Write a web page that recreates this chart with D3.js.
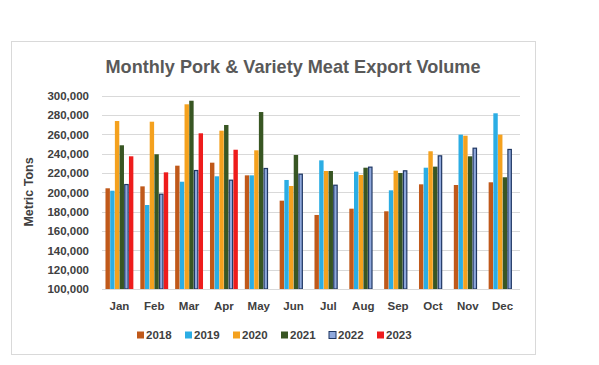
<!DOCTYPE html>
<html>
<head>
<meta charset="utf-8">
<script src="https://cdn.jsdelivr.net/npm/d3@7"></script>
<style>
  html, body { margin: 0; padding: 0; background: #ffffff; }
  svg { display: block; }
  text { font-family: "Liberation Sans", Arial, sans-serif; }
</style>
</head>
<body>
<div id="chart"></div>
<script>
const months = ["Jan","Feb","Mar","Apr","May","Jun","Jul","Aug","Sep","Oct","Nov","Dec"];
const seriesNames = ["2018","2019","2020","2021","2022","2023"];
const v2018 = [204200, 206200, 227600, 230700, 217600, 191400, 176600, 183100, 180400, 208300, 207600, 210400];
const v2019 = [201700, 186900, 211000, 216600, 217600, 212800, 233100, 221400, 202100, 225500, 259700, 281800];
const v2020 = [273800, 273100, 291100, 263800, 243500, 206600, 222100, 218000, 222400, 242500, 258600, 259700];
const v2021 = [248700, 239400, 294800, 269700, 283100, 238700, 222100, 225500, 220000, 226600, 237300, 215600];
const v2022 = [208600, 198600, 223100, 213100, 225200, 219300, 207900, 226600, 222800, 238300, 246200, 244900];
const v2023 = [237300, 220700, 261100, 244100, null, null, null, null, null, null, null, null];
const yTicks = [100000,120000,140000,160000,180000,200000,220000,240000,260000,280000,300000];
const colors = ["#C0591A", "#2BADE4", "#F4A11E", "#385623", "#8FA8DC", "#EE1C1C"];
const strokes = [null, null, null, null, "#1F3763", null];

const allSeries = [v2018, v2019, v2020, v2021, v2022, v2023];

const W = 599, H = 365;
const svg = d3.select("#chart").append("svg").attr("width", W).attr("height", H);

// chart frame
svg.append("rect").attr("x", 11.5).attr("y", 41.5).attr("width", 524).attr("height", 313)
  .attr("fill", "#ffffff").attr("stroke", "#d9d9d9").attr("stroke-width", 1);

const plot = { left: 102, right: 520, top: 95.7, bottom: 289 };

const y = d3.scaleLinear().domain([100000, 300000]).range([plot.bottom, plot.top]);
const x0 = d3.scaleBand().domain(months).range([plot.left, plot.right]).paddingInner(0.2).paddingOuter(0.1);
const x1 = d3.scaleBand().domain(seriesNames).range([0, x0.bandwidth()]).paddingInner(0.06);

// gridlines
svg.append("g").selectAll("line").data(yTicks).join("line")
  .attr("x1", plot.left).attr("x2", plot.right)
  .attr("y1", d => Math.round(y(d)) + 0.5).attr("y2", d => Math.round(y(d)) + 0.5)
  .attr("stroke", "#d9d9d9").attr("stroke-width", 1);

// y axis labels
const yAxis = d3.axisLeft(y).tickValues(yTicks).tickFormat(d3.format(",")).tickSize(0).tickPadding(0);
const yg = svg.append("g").attr("transform", `translate(${plot.left - 13},0)`).call(yAxis);
yg.select(".domain").remove();
yg.selectAll("text").attr("font-size", 11.5).attr("font-weight", "bold").attr("fill", "#404040")
  .attr("font-family", "Liberation Sans, Arial, sans-serif");

// bars
const groups = svg.append("g").selectAll("g").data(months).join("g")
  .attr("transform", d => `translate(${x0(d)},0)`);

groups.selectAll("rect")
  .data((m, i) => seriesNames.map((s, j) => ({ s, j, v: allSeries[j][i] })).filter(d => d.v != null))
  .join("rect")
  .attr("x", d => x1(d.s) + (strokes[d.j] ? 0.5 : 0))
  .attr("y", d => y(d.v) + (strokes[d.j] ? 0.5 : 0))
  .attr("width", d => x1.bandwidth() - (strokes[d.j] ? 1 : 0))
  .attr("height", d => y(100000) - y(d.v) - (strokes[d.j] ? 0.5 : 0))
  .attr("fill", d => colors[d.j])
  .attr("stroke", d => strokes[d.j] || "none")
  .attr("stroke-width", d => strokes[d.j] ? 1.2 : 0);

// baseline
svg.append("line").attr("x1", plot.left).attr("x2", plot.right)
  .attr("y1", Math.round(y(100000)) + 0.5).attr("y2", Math.round(y(100000)) + 0.5)
  .attr("stroke", "#d9d9d9");

// x axis labels
const xAxis = d3.axisBottom(x0).tickSize(0).tickPadding(0);
const xg = svg.append("g").attr("transform", `translate(0,${plot.bottom + 13})`).call(xAxis);
xg.select(".domain").remove();
xg.selectAll("text").attr("font-size", 11.5).attr("font-weight", "bold").attr("fill", "#404040")
  .attr("font-family", "Liberation Sans, Arial, sans-serif").attr("dy", "0.71em");

// title
svg.append("text").attr("x", 293).attr("y", 73).attr("text-anchor", "middle")
  .attr("font-size", 19).attr("font-weight", "bold").attr("fill", "#595959")
  .attr("textLength", 375).attr("lengthAdjust", "spacingAndGlyphs")
  .text("Monthly Pork & Variety Meat Export Volume");

// y axis title
svg.append("text").attr("transform", `translate(33,192) rotate(-90)`).attr("text-anchor", "middle")
  .attr("font-size", 12.5).attr("font-weight", "bold").attr("fill", "#404040")
  .text("Metric Tons");

// legend
const legendX = d3.scalePoint().domain(seriesNames).range([137, 377]);
const lg = svg.append("g").selectAll("g").data(seriesNames).join("g")
  .attr("transform", d => `translate(${legendX(d)},335)`);
lg.append("rect").attr("x", 0).attr("y", -3.5).attr("width", 7).attr("height", 7)
  .attr("fill", (d, i) => colors[i])
  .attr("stroke", (d, i) => strokes[i] || "none").attr("stroke-width", 1);
lg.append("text").attr("x", 9).attr("y", 0).attr("dy", "0.35em")
  .attr("font-size", 11.5).attr("font-weight", "bold").attr("fill", "#404040")
  .text(d => d);
</script>
</body>
</html>
